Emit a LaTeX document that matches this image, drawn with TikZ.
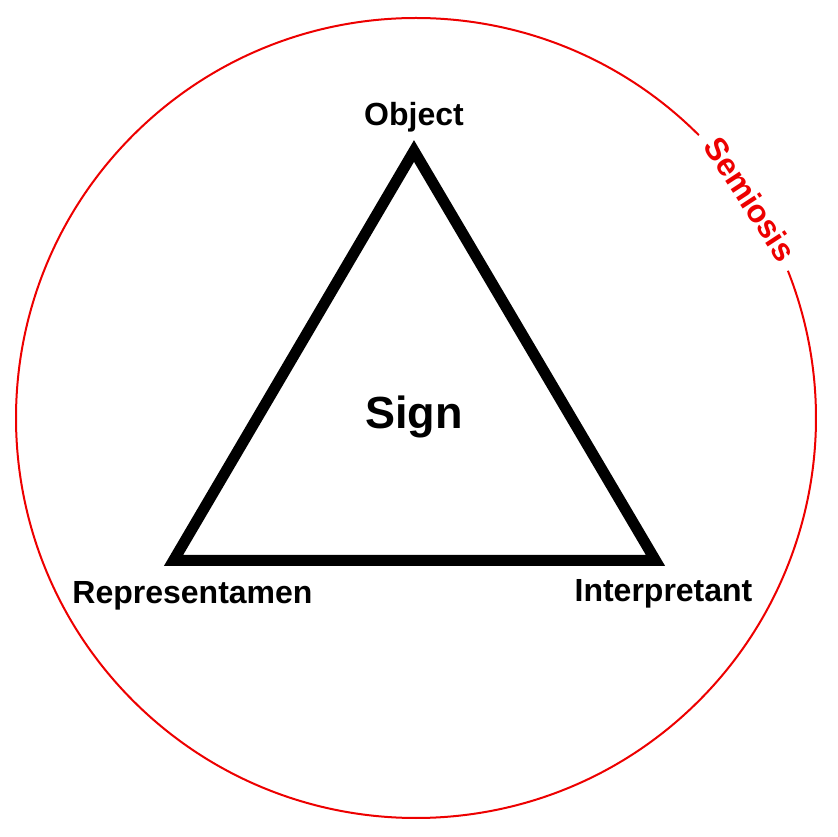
\documentclass[tikz,border=0pt]{standalone}
\usepackage{fontspec}
\setmainfont{Liberation Sans}
\definecolor{semiosisred}{rgb}{0.93,0,0}

\begin{document}
\begin{tikzpicture}[x=1pt, y=1pt, lbl/.style={font=\bfseries\fontsize{32}{38}\selectfont}]
        \useasboundingbox (0,0) rectangle (838,836);

        \draw[semiosisred, line width=2pt] ([shift={(416,418)}]45:400) arc[start angle=45, end angle=381.6, radius=400];
        \node[semiosisred, lbl, rotate=-56.8] (semiosis) at ([shift={(416,418)}]33.2:400) {Semiosis};

        \coordinate (top) at (414,685);
        \coordinate (left) at (173.5,275.5);
        \coordinate (right) at (655.5,275.5);
        \draw[black, line width=11pt] (top) -- (left) -- (right) -- cycle;

        \node[lbl, anchor=base] (object) at (414,710) {Object};
        \node[lbl, anchor=base] (representamen) at (192.5,233) {Representamen};
        \node[lbl, anchor=base] (interpretant) at (663.5,234) {Interpretant};
        \node[font=\bfseries\fontsize{45}{54}\selectfont, anchor=base] (sign) at (414,407) {Sign};
    \end{tikzpicture}
\end{document}
